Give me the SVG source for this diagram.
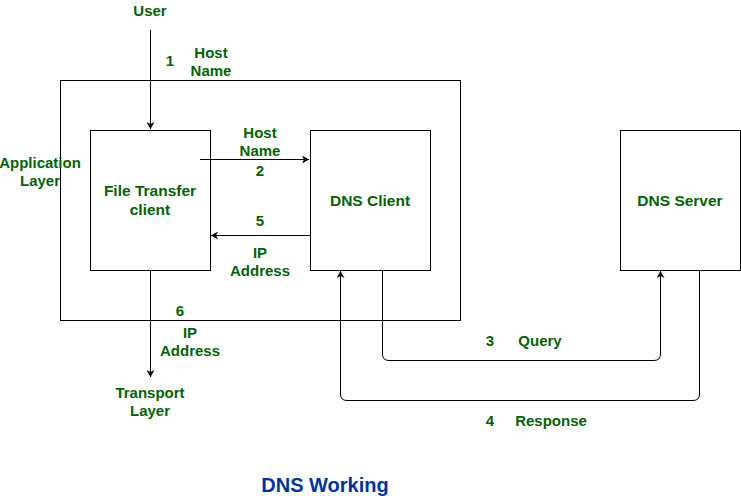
<svg xmlns="http://www.w3.org/2000/svg" width="741" height="496" viewBox="0 0 741 496">
<style>
.box{fill:#fff;stroke:#000;stroke-width:1}
.line{fill:none;stroke:#000;stroke-width:1}
.t{font-family:"Liberation Sans",Arial,sans-serif;font-weight:bold;font-size:15px;fill:#006600;text-anchor:middle;dominant-baseline:central}
.b{font-size:15.5px}
.title{font-family:"Liberation Sans",Arial,sans-serif;font-weight:bold;font-size:20px;fill:#0033AA;text-anchor:middle;dominant-baseline:central}
</style>
<defs>
<marker id="arr" markerWidth="8" markerHeight="8" refX="7" refY="4" orient="auto" markerUnits="userSpaceOnUse">
<path d="M0,0 L7,4 L0,8 L2,4 Z" fill="#000"/>
</marker>
</defs>
<rect width="741" height="496" fill="#fff"/>
<g id="app-layer"><rect class="box" x="60.5" y="80.5" width="400" height="240"/></g>
<g id="ftc"><rect class="box" x="90.5" y="130.5" width="120" height="140"/>
<text class="t b" x="150" y="190">File Transfer</text><text class="t b" x="150" y="209">client</text></g>
<g id="dns-client"><rect class="box" x="310.5" y="130.5" width="120" height="140"/>
<text class="t b" x="370" y="200">DNS Client</text></g>
<g id="dns-server"><rect class="box" x="620.5" y="130.5" width="120" height="140"/>
<text class="t b" x="680" y="200">DNS Server</text></g>
<g id="connectors">
<path class="line" d="M150.5,30 V129" marker-end="url(#arr)"/>
<path class="line" d="M200,159.5 H309" marker-end="url(#arr)"/>
<path class="line" d="M310,235.5 H211" marker-end="url(#arr)"/>
<path class="line" d="M150.5,270 V377" marker-end="url(#arr)"/>
<path class="line" d="M382.5,270 V354 Q382.5,360.5 389,360.5 H654 Q660.5,360.5 660.5,354 V271" marker-end="url(#arr)"/>
<path class="line" d="M699.5,270 V394 Q699.5,400.5 693,400.5 H347 Q340.5,400.5 340.5,394 V271" marker-end="url(#arr)"/>
</g>
<g id="labels">
<text class="t" x="150" y="10">User</text>
<text class="t" x="170" y="60">1</text>
<text class="t" x="211" y="52">Host</text><text class="t" x="211" y="70">Name</text>
<text class="t" x="40" y="162">Application</text><text class="t" x="40" y="180">Layer</text>
<text class="t" x="260" y="132">Host</text><text class="t" x="260" y="150">Name</text>
<text class="t" x="260" y="170">2</text>
<text class="t" x="260" y="220">5</text>
<text class="t" x="260" y="252">IP</text><text class="t" x="260" y="270">Address</text>
<text class="t" x="180" y="310">6</text>
<text class="t" x="190" y="332">IP</text><text class="t" x="190" y="350">Address</text>
<text class="t" x="150" y="392">Transport</text><text class="t" x="150" y="410">Layer</text>
<text class="t" x="490" y="340">3</text><text class="t" x="540" y="340">Query</text>
<text class="t" x="490" y="420">4</text><text class="t" x="551" y="420">Response</text>
<text class="title" x="325" y="485">DNS Working</text>
</g>
</svg>
